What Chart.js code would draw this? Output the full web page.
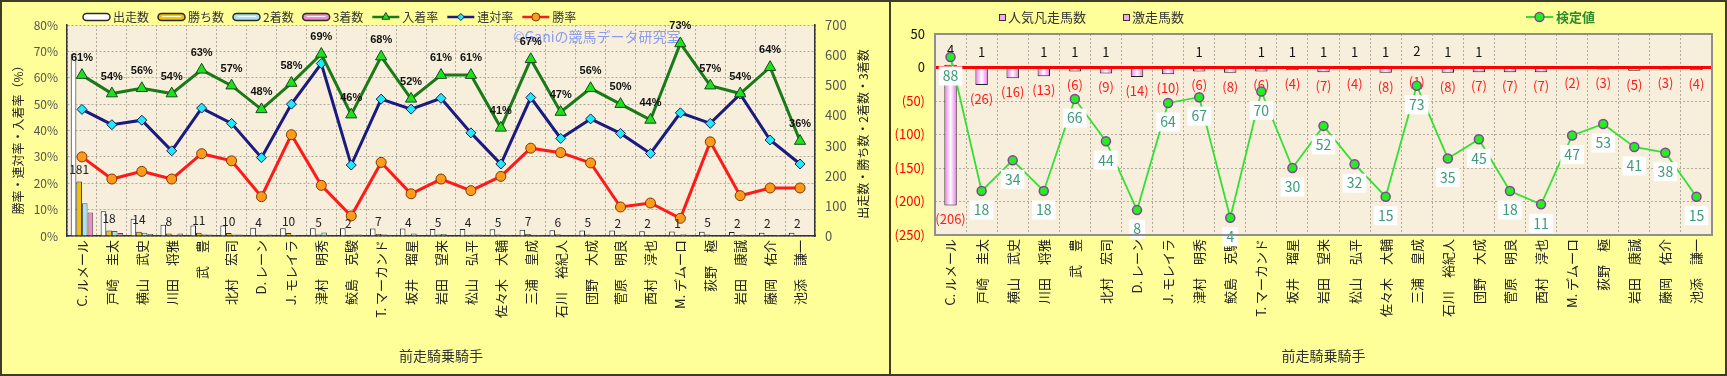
<!DOCTYPE html>
<html lang="ja">
<head>
<meta charset="utf-8">
<title>前走騎乗騎手別成績</title>
<script src="https://cdn.jsdelivr.net/npm/chart.js@4.4.1/dist/chart.umd.min.js"></script>
<style>
  html, body { margin: 0; padding: 0; background: #ffff99; }
  body { width: 1727px; height: 376px; position: relative; overflow: hidden; }
  .panel { position: absolute; top: 0; height: 376px; box-sizing: border-box; border: 2px solid #3c3c28; background: #ffff99; }
  #leftPanel { left: 0; width: 891px; }
  #rightPanel { left: 889px; width: 838px; }
  canvas { position: absolute; left: 0; top: 0; }
</style>
</head>
<body>
<div class="panel" id="leftPanel"><canvas id="leftChart" width="887" height="372"></canvas></div>
<div class="panel" id="rightPanel"><canvas id="rightChart" width="834" height="372"></canvas></div>
<script>
// jockeys (x categories)
const jockeys = ['C. ルメール', '戸崎　圭太', '横山　武史', '川田　将雅', '武　豊', '北村　宏司', 'D. レーン',
  'J. モレイラ', '津村　明秀', '鮫島　克駿', 'T. マーカンド', '坂井　瑠星', '岩田　望来', '松山　弘平',
  '佐々木　大輔', '三浦　皇成', '石川　裕紀人', '団野　大成', '菅原　明良', '西村　淳也', 'M. デムーロ',
  '荻野　極', '岩田　康誠', '藤岡　佑介', '池添　謙一'];

// left chart: counts (right axis)
const starts  = [603, 82, 57, 37, 35, 35, 27, 26, 26, 26, 25, 25, 23, 23, 22, 21, 19, 18, 18, 16, 15, 14, 13, 11, 11];
const wins    = [181, 18, 14, 8, 11, 10, 4, 10, 5, 2, 7, 4, 5, 4, 5, 7, 6, 5, 2, 2, 1, 5, 2, 2, 2];
const seconds = [109, 17, 11, 4, 6, 5, 4, 3, 12, 5, 6, 8, 7, 5, 1, 4, 1, 3, 5, 3, 6, 1, 5, 2, 1];
const thirds  = [78, 10, 7, 8, 5, 5, 5, 2, 1, 5, 4, 1, 2, 5, 3, 3, 2, 2, 2, 2, 4, 2, 0, 3, 1];

// left chart: rates in % (left axis)
const placeRate    = [61, 54, 56, 54, 63, 57, 48, 58, 69, 46, 68, 52, 61, 61, 41, 67, 47, 56, 50, 44, 73, 57, 54, 64, 36];
const quinellaRate = [48.0, 42.2, 43.9, 32.3, 48.5, 42.7, 29.7, 50.0, 65.4, 26.9, 51.9, 48.1, 52.2, 39.1, 27.3, 52.5,
  37.0, 44.4, 38.9, 31.3, 46.7, 42.7, 53.8, 36.4, 27.3];
const winRate      = [30.0, 21.6, 24.5, 21.6, 31.2, 28.5, 14.9, 38.4, 19.2, 7.6, 27.9, 16.0, 21.6, 17.2, 22.6, 33.3,
  31.6, 27.7, 11.0, 12.5, 6.7, 35.7, 15.3, 18.2, 18.2];

// right chart
const gekisou = [4, 1, 0, 1, 1, 1, 0, 0, 1, 0, 1, 1, 1, 1, 1, 2, 1, 1, 0, 0, 0, 0, 0, 0, 0];
const bonsou  = [-206, -26, -16, -13, -6, -9, -14, -10, -6, -8, -6, -4, -7, -4, -8, -1, -8, -7, -7, -7, -2, -3, -5, -3, -4];
const kentei  = [88, 18, 34, 18, 66, 44, 8, 64, 67, 4, 70, 30, 52, 32, 15, 73, 35, 45, 18, 11, 47, 53, 41, 38, 15];

const JP = "'Noto Sans CJK JP', 'Noto Sans', sans-serif";
Chart.defaults.font.family = JP;
Chart.defaults.animation = false;

const gridColor = '#b0ab9c';
const gridDash = [2, 2];
const plotBg = '#f7efdc';

function fillPlot(chart) {
  const a = chart.chartArea, ctx = chart.ctx;
  ctx.save();
  ctx.fillStyle = plotBg;
  ctx.fillRect(a.left, a.top, a.right - a.left, a.bottom - a.top);
  ctx.restore();
}

function drawBarIcon(ctx, x, y, fill) {
  ctx.save();
  ctx.beginPath();
  ctx.roundRect(x, y - 3.5, 27, 7, 3.5);
  ctx.fillStyle = fill;
  ctx.fill();
  ctx.lineWidth = 1.5;
  ctx.strokeStyle = '#2a2a2a';
  ctx.stroke();
  ctx.beginPath();
  ctx.moveTo(x + 4, y - 0.5);
  ctx.lineTo(x + 23, y - 0.5);
  ctx.strokeStyle = 'rgba(255,255,255,0.85)';
  ctx.lineWidth = 1.2;
  ctx.stroke();
  ctx.restore();
}

function drawLineIcon(ctx, x, y, color, width, pt) {
  ctx.save();
  ctx.beginPath();
  ctx.moveTo(x, y);
  ctx.lineTo(x + 27, y);
  ctx.strokeStyle = color;
  ctx.lineWidth = width;
  ctx.stroke();
  ctx.fillStyle = pt.fill;
  ctx.strokeStyle = pt.stroke;
  ctx.lineWidth = pt.borderWidth;
  Chart.helpers.drawPoint(ctx, {pointStyle: pt.style, radius: pt.radius, borderWidth: pt.borderWidth, rotation: 0}, x + 13.5, y);
  ctx.restore();
}

const leftLegend = [
  {kind: 'bar', text: '出走数', fill: '#ffffff'},
  {kind: 'bar', text: '勝ち数', fill: '#f2c200'},
  {kind: 'bar', text: '2着数', fill: '#a9e3ee'},
  {kind: 'bar', text: '3着数', fill: '#ef8cc6'},
  {kind: 'line', text: '入着率', color: '#1a7a1a', pt: {style: 'triangle', radius: 4.5, fill: '#1ee01e', stroke: '#1a4a1a', borderWidth: 1}},
  {kind: 'line', text: '連対率', color: '#1a1a80', pt: {style: 'rectRot', radius: 3.5, fill: '#22eaf5', stroke: '#1a1a60', borderWidth: 1}},
  {kind: 'line', text: '勝率', color: '#ff1a1a', pt: {style: 'circle', radius: 4, fill: '#ff9a1a', stroke: '#7a3a00', borderWidth: 1}}
];

const leftDecor = {
  id: 'leftDecor',
  beforeDraw(chart) { fillPlot(chart); },
  beforeDatasetsDraw(chart) {
    const ctx = chart.ctx;
    ctx.save();
    ctx.font = '14px ' + JP;
    ctx.fillStyle = '#8b9cf0';
    ctx.textBaseline = 'middle';
    ctx.fillText('©Ganiの競馬データ研究室', 511, 35);
    ctx.restore();
  },
  afterDatasetsDraw(chart) {
    const ctx = chart.ctx;
    ctx.save();
    ctx.textAlign = 'center';
    ctx.textBaseline = 'middle';
    ctx.font = '12px ' + JP;
    ctx.fillStyle = '#222';
    chart.getDatasetMeta(1).data.forEach((el, i) => ctx.fillText(String(wins[i]), el.x, el.y - 12));
    ctx.font = "bold 11px 'Liberation Sans', sans-serif";
    ctx.fillStyle = '#111';
    chart.getDatasetMeta(4).data.forEach((el, i) => ctx.fillText(placeRate[i] + '%', el.x, el.y - 17));
    ctx.restore();
  },
  afterDraw(chart) {
    const ctx = chart.ctx;
    ctx.save();
    // legend
    let x = 81;
    const y = 15;
    ctx.font = '12px ' + JP;
    ctx.textBaseline = 'middle';
    leftLegend.forEach(item => {
      if (item.kind === 'bar') drawBarIcon(ctx, x, y, item.fill);
      else drawLineIcon(ctx, x, y, item.color, 2.5, item.pt);
      ctx.fillStyle = '#333';
      ctx.fillText(item.text, x + 30, y);
      x += 30 + ctx.measureText(item.text).width + 9;
    });
    // axis titles
    ctx.font = '12px ' + JP;
    ctx.fillStyle = '#222';
    ctx.textAlign = 'center';
    ctx.translate(16, 135);
    ctx.rotate(-Math.PI / 2);
    ctx.fillText('勝率・連対率・入着率（%）', 0, 0);
    ctx.setTransform(1, 0, 0, 1, 0, 0);
    ctx.translate(861, 132);
    ctx.rotate(-Math.PI / 2);
    ctx.fillText('出走数・勝ち数・2着数・3着数', 0, 0);
    ctx.restore();
  }
};

const xTicks = {font: {size: 13}, color: '#222', minRotation: 90, maxRotation: 90, autoSkip: false, padding: 4};
const xTitle = {display: true, text: '前走騎乗騎手', font: {size: 14}, color: '#333', padding: {top: 4, bottom: 10}};

const leftChart = new Chart(document.getElementById('leftChart'), {
  data: {
    labels: jockeys,
    datasets: [
      {type: 'bar', label: '出走数', data: starts, yAxisID: 'y1', backgroundColor: '#ffffff', borderColor: '#222', borderWidth: 1, order: 1},
      {type: 'bar', label: '勝ち数', data: wins, yAxisID: 'y1', backgroundColor: '#f2c200', borderColor: '#333', borderWidth: 1, order: 1},
      {type: 'bar', label: '2着数', data: seconds, yAxisID: 'y1', backgroundColor: '#a9e3ee', borderColor: '#555', borderWidth: 1, order: 1},
      {type: 'bar', label: '3着数', data: thirds, yAxisID: 'y1', backgroundColor: '#ef8cc6', borderColor: '#555', borderWidth: 1, order: 1},
      {type: 'line', label: '入着率', data: placeRate, yAxisID: 'y', borderColor: '#1a7a1a', borderWidth: 3,
        pointStyle: 'triangle', pointRadius: 6.5, pointBackgroundColor: '#1ee01e', pointBorderColor: '#1a4a1a', pointBorderWidth: 1, order: 0},
      {type: 'line', label: '連対率', data: quinellaRate, yAxisID: 'y', borderColor: '#1a1a80', borderWidth: 3,
        pointStyle: 'rectRot', pointRadius: 5, pointBackgroundColor: '#22eaf5', pointBorderColor: '#1a1a60', pointBorderWidth: 1, order: 0},
      {type: 'line', label: '勝率', data: winRate, yAxisID: 'y', borderColor: '#ff1a1a', borderWidth: 3,
        pointStyle: 'circle', pointRadius: 5, pointBackgroundColor: '#ff9a1a', pointBorderColor: '#7a3a00', pointBorderWidth: 1, order: 0}
    ]
  },
  options: {
    responsive: false,
    layout: {padding: {top: 23, left: 0, right: 0, bottom: 0}},
    datasets: {bar: {categoryPercentage: 0.75, barPercentage: 1.0}},
    plugins: {legend: {display: false}, tooltip: {enabled: false}},
    scales: {
      x: {
        grid: {color: gridColor, drawTicks: false},
        border: {color: '#333', width: 1.5, dash: gridDash},
        ticks: xTicks,
        title: xTitle,
        afterFit(s) { s.height = 138; }
      },
      y: {
        position: 'left', min: 0, max: 80,
        ticks: {stepSize: 10, callback: v => v + '%', font: {size: 12}, color: '#555', padding: 9},
        grid: {color: gridColor, drawTicks: false},
        border: {color: '#333', width: 1.5, dash: gridDash},
        afterFit(s) { s.width = 65; }
      },
      y1: {
        position: 'right', min: 0, max: 700,
        ticks: {stepSize: 100, font: {size: 13}, color: '#555', padding: 10},
        grid: {drawOnChartArea: false, drawTicks: false},
        border: {color: '#333', width: 1.5},
        afterFit(s) { s.width = 74; }
      }
    }
  },
  plugins: [leftDecor]
});

// right chart
function pinkBar(c) {
  if (c.type !== 'data') return '#f4b6f0';
  const el = c.chart.getDatasetMeta(c.datasetIndex).data[c.dataIndex];
  if (!el || !isFinite(el.x) || !el.width) return '#f4b6f0';
  const g = c.chart.ctx.createLinearGradient(el.x - el.width / 2, 0, el.x + el.width / 2, 0);
  g.addColorStop(0, '#ee70ee');
  g.addColorStop(0.5, '#ffffff');
  g.addColorStop(1, '#ee70ee');
  return g;
}

const rightDecor = {
  id: 'rightDecor',
  beforeDraw(chart) { fillPlot(chart); },
  beforeDatasetDraw(chart, args) {
    if (args.meta.type !== 'line') return;
    const ctx = chart.ctx, a = chart.chartArea;
    const y0 = chart.scales.y.getPixelForValue(0);
    ctx.save();
    ctx.strokeStyle = '#ff0000';
    ctx.lineWidth = 3;
    ctx.beginPath();
    ctx.moveTo(a.left, y0);
    ctx.lineTo(a.right, y0);
    ctx.stroke();
    ctx.textAlign = 'center';
    ctx.textBaseline = 'middle';
    ctx.font = '13px ' + JP;
    ctx.fillStyle = '#111';
    chart.getDatasetMeta(1).data.forEach((el, i) => {
      if (gekisou[i] > 0) ctx.fillText(String(gekisou[i]), el.x, el.y - 15);
    });
    ctx.fillStyle = '#ff1a1a';
    chart.getDatasetMeta(0).data.forEach((el, i) => ctx.fillText('(' + (-bonsou[i]) + ')', el.x, el.y + 14));
    ctx.restore();
  },
  afterDatasetsDraw(chart) {
    const ctx = chart.ctx;
    ctx.save();
    ctx.textAlign = 'center';
    ctx.textBaseline = 'middle';
    ctx.font = '14px ' + JP;
    chart.getDatasetMeta(2).data.forEach((el, i) => {
      const t = String(kentei[i]);
      const w = ctx.measureText(t).width + 8;
      ctx.fillStyle = '#ffffff';
      ctx.fillRect(el.x - w / 2, el.y + 19 - 9.5, w, 19);
      ctx.fillStyle = '#3d9a7a';
      ctx.fillText(t, el.x, el.y + 19);
    });
    ctx.restore();
  },
  afterDraw(chart) {
    const ctx = chart.ctx, a = chart.chartArea;
    ctx.save();
    ctx.strokeStyle = '#8f8f8f';
    ctx.lineWidth = 2;
    ctx.strokeRect(a.left, a.top, a.right - a.left, a.bottom - a.top);
    // legend
    ctx.font = '13px ' + JP;
    ctx.textBaseline = 'middle';
    [[108, '人気凡走馬数'], [232, '激走馬数']].forEach(([x, t]) => {
      ctx.fillStyle = '#f5a8f0';
      ctx.fillRect(x, 12, 6, 6);
      ctx.strokeStyle = '#333';
      ctx.lineWidth = 1;
      ctx.strokeRect(x + 0.5, 12.5, 6, 6);
      ctx.fillStyle = '#333';
      ctx.fillText(t, x + 9, 15);
    });
    drawLineIcon(ctx, 635, 15, '#33dd33', 2, {style: 'circle', radius: 4.5, fill: '#22ee22', stroke: '#8a3f9a', borderWidth: 1.5});
    ctx.font = 'bold 13px ' + JP;
    ctx.fillStyle = '#2c8c2c';
    ctx.fillText('検定値', 665, 15);
    ctx.restore();
  }
};

const rightChart = new Chart(document.getElementById('rightChart'), {
  data: {
    labels: jockeys,
    datasets: [
      {type: 'bar', label: '人気凡走馬数', data: bonsou, backgroundColor: pinkBar, borderColor: '#222', borderWidth: 1, order: 1},
      {type: 'bar', label: '激走馬数', data: gekisou, backgroundColor: pinkBar, borderColor: '#222', borderWidth: 1, order: 1},
      {type: 'line', label: '検定値', data: kentei, yAxisID: 'y2', borderColor: '#33e033', borderWidth: 1.8,
        pointStyle: 'circle', pointRadius: 4.5, pointBackgroundColor: '#22ee22', pointBorderColor: '#8a3f9a', pointBorderWidth: 1.5, order: 0}
    ]
  },
  options: {
    responsive: false,
    layout: {padding: {top: 32, left: 0, right: 13, bottom: 0}},
    datasets: {bar: {categoryPercentage: 0.4, barPercentage: 1.0}},
    plugins: {legend: {display: false}, tooltip: {enabled: false}},
    scales: {
      x: {
        stacked: true,
        grid: {color: gridColor, drawTicks: false},
        border: {display: false, dash: gridDash},
        ticks: xTicks,
        title: xTitle,
        afterFit(s) { s.height = 139; }
      },
      y: {
        stacked: true, min: -250, max: 50,
        ticks: {
          stepSize: 50, font: {size: 13}, padding: 10,
          callback: v => v < 0 ? '(' + (-v) + ')' : String(v),
          color: c => (c.tick && c.tick.value < 0) ? '#ff0000' : '#111'
        },
        grid: {color: gridColor, drawTicks: false},
        border: {display: false, dash: gridDash},
        afterFit(s) { s.width = 44; }
      },
      y2: {display: false, min: -5, max: 100}
    }
  },
  plugins: [rightDecor]
});
// second pass so the bar gradients know their element positions
rightChart.update('none');
</script>
</body>
</html>
